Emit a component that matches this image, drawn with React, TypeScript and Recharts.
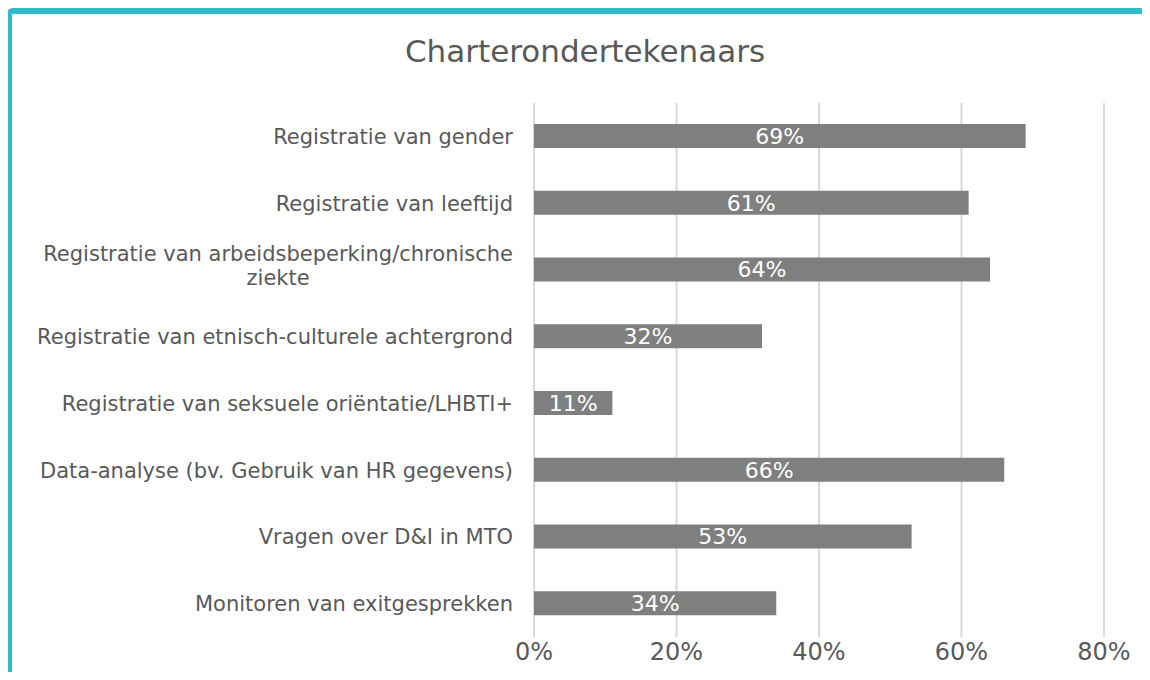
import { BarChart, Bar, XAxis, YAxis, CartesianGrid, LabelList } from 'recharts'

const categories = [
  'Registratie van gender',
  'Registratie van leeftijd',
  'Registratie van arbeidsbeperking/chronische\nziekte',
  'Registratie van etnisch-culturele achtergrond',
  'Registratie van seksuele oriëntatie/LHBTI+',
  'Data-analyse (bv. Gebruik van HR gegevens)',
  'Vragen over D&I in MTO',
  'Monitoren van exitgesprekken',
]
const shares = [0.69, 0.61, 0.64, 0.32, 0.11, 0.66, 0.53, 0.34]
const xTicks = [0, 0.2, 0.4, 0.6, 0.8]

const data = categories.map((name, i) => ({ name, value: shares[i] }))

const FONT = '"DejaVu Sans", Verdana, sans-serif'
const TEXT = '#595959'
const LABEL_SIZE = 21

const pct = (v: number) => `${Math.round(v * 100)}%`

let ctx: CanvasRenderingContext2D | null = null
function measure(s: string) {
  if (!ctx) ctx = document.createElement('canvas').getContext('2d')
  if (!ctx) return s.length * LABEL_SIZE * 0.6
  ctx.font = `${LABEL_SIZE}px "DejaVu Sans"`
  return ctx.measureText(s).width
}

// right-aligned block, lines centred within it (like the Excel label wrap)
function CategoryTick({ x, y, payload }: { x?: number; y?: number; payload?: { value: string } }) {
  const lines = String(payload?.value ?? '').split('\n')
  if (lines.length === 1) {
    return (
      <text x={x} y={y} dy="0.36em" textAnchor="end" fill={TEXT} fontSize={LABEL_SIZE} fontFamily={FONT}>
        {lines[0]}
      </text>
    )
  }
  const w = Math.max(...lines.map(measure))
  const cx = (x ?? 0) - w / 2
  const lh = 24
  const top = (y ?? 0) - (lh * (lines.length - 1)) / 2 - 4
  return (
    <text textAnchor="middle" fill={TEXT} fontSize={LABEL_SIZE} fontFamily={FONT}>
      {lines.map((l, i) => (
        <tspan key={i} x={cx} y={top + i * lh} dy="0.36em">{l}</tspan>
      ))}
    </text>
  )
}

export default function App() {
  return (
    <div style={{ position: 'relative', width: 1150, height: 680, margin: -8, overflow: 'hidden', background: '#fff' }}>
      <div
        style={{
          position: 'absolute', left: 6, top: 8, width: 1250, height: 800,
          border: '6px solid #33BAC8', borderRadius: 7, boxSizing: 'border-box',
        }}
      />
      <div
        style={{
          position: 'absolute', left: 0, top: 34, width: 1170, textAlign: 'center',
          fontFamily: FONT, fontSize: 31, lineHeight: '34px', color: TEXT,
        }}
      >
        Charterondertekenaars
      </div>
      <div style={{ position: 'absolute', left: 0, top: 0 }}>
        <BarChart
          width={1150}
          height={680}
          data={data}
          layout="vertical"
          margin={{ top: 103, right: 46, bottom: 0, left: 0 }}
        >
          <CartesianGrid horizontal={false} vertical stroke="#d9d9d9" strokeWidth={2} />
          <XAxis
            type="number"
            domain={[0, 0.8]}
            ticks={xTicks}
            tickFormatter={pct}
            axisLine={false}
            tickLine={false}
            tickSize={0}
            tickMargin={6}
            height={43}
            tick={{ fill: TEXT, fontSize: 24, fontFamily: FONT }}
          />
          <YAxis
            type="category"
            dataKey="name"
            width={534}
            axisLine={false}
            tickLine={false}
            tickSize={0}
            tickMargin={21}
            interval={0}
            tick={<CategoryTick />}
          />
          <Bar dataKey="value" fill="#7f7f7f" barSize={24} isAnimationActive={false}>
            <LabelList
              dataKey="value"
              position="center"
              formatter={(v: number) => pct(v)}
              fill="#ffffff"
              fontSize={22}
              fontFamily={FONT}
            />
          </Bar>
        </BarChart>
      </div>
    </div>
  )
}
